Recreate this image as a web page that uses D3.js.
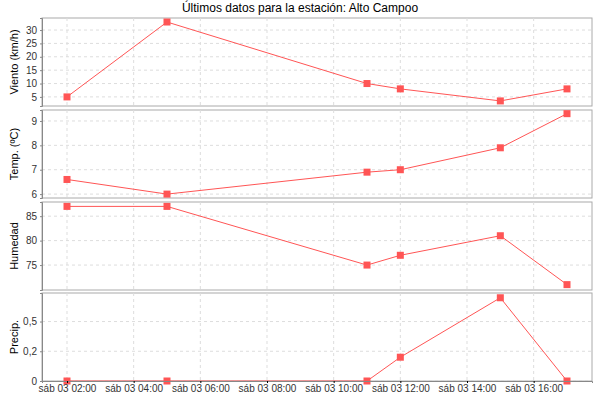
<!DOCTYPE html>
<html><head><meta charset="utf-8">
<script src="https://cdn.jsdelivr.net/npm/d3@7"></script>
<style>body{margin:0;background:#fff}text{font-family:"Liberation Sans",Arial,sans-serif}</style>
</head><body><svg id="c" width="600" height="400"></svg>
<script>
const times = ["02:00","05:00","11:00","12:00","15:00","17:00"];
const viento = [5, 33, 10, 8, 3.5, 8];
const temp = [6.6, 6.0, 6.9, 7.0, 7.9, 9.3];
const humedad = [87, 87, 75, 77, 81, 71];
const precip = [0, 0, 0, 0.2, 0.7, 0];
const xTicks = ["02:00","04:00","06:00","08:00","10:00","12:00","14:00","16:00"];
const panels = [
  {label:"Viento (km/h)", data:viento, dom:[1.6,34.5], ticks:[5,10,15,20,25,30], fmt:d=>d, y0:18, y1:106},
  {label:"Temp. (ºC)", data:temp, dom:[5.84,9.45], ticks:[6,7,8,9], fmt:d=>d, y0:110, y1:198},
  {label:"Humedad", data:humedad, dom:[69.9,87.9], ticks:[75,80,85], fmt:d=>d, y0:202, y1:290},
  {label:"Precip.", data:precip, dom:[0,0.74], ticks:[0,0.25,0.5], fmt:d=>d===0?"0":("0,"+String(Math.floor(d*10))), y0:293, y1:381}
];
const toH = s=>{const [h,m]=s.split(":").map(Number);return h+m/60;};
const svg = d3.select("#c");
const L=42,R=592;
const x = d3.scaleLinear().domain([1.25,17.75]).range([L,R]);
svg.append("text").attr("x",300).attr("y",12).attr("text-anchor","middle").attr("font-size",12).text("Últimos datos para la estación: Alto Campoo");
const color="#ff5555";
panels.forEach((p,i)=>{
  const y=d3.scaleLinear().domain(p.dom).range([p.y1,p.y0]);
  const g=svg.append("g");
  g.append("rect").attr("x",L).attr("y",p.y0).attr("width",R-L).attr("height",p.y1-p.y0).attr("fill","#fff").attr("stroke","#aaa");
  g.selectAll(".vg").data(xTicks).join("line").attr("x1",d=>x(toH(d))).attr("x2",d=>x(toH(d))).attr("y1",p.y0).attr("y2",p.y1).attr("stroke","#ddd").attr("stroke-dasharray","3,3");
  g.selectAll(".hg").data(p.ticks).join("line").attr("x1",L).attr("x2",R).attr("y1",d=>y(d)).attr("y2",d=>y(d)).attr("stroke","#ddd").attr("stroke-dasharray","3,3");
  const ax=g.append("g").attr("transform",`translate(${L},0)`).call(d3.axisLeft(y).tickValues(p.ticks).tickFormat(p.fmt).tickSize(2).tickPadding(3));
  ax.select(".domain").attr("stroke","#888");
  ax.selectAll("text").attr("font-size",10).attr("fill","#333");
  ax.selectAll(".tick line").attr("stroke","#888");
  g.append("text").attr("transform",`translate(18,${(p.y0+p.y1)/2}) rotate(-90)`).attr("text-anchor","middle").attr("font-size",11).text(p.label);
  const pts=p.data.map((v,j)=>[x(toH(times[j])),y(v)]);
  g.append("path").attr("d",d3.line()(pts)).attr("fill","none").attr("stroke",color).attr("stroke-width",1);
  g.selectAll(".m").data(pts).join("rect").attr("x",d=>d[0]-3.5).attr("y",d=>d[1]-3.5).attr("width",7).attr("height",7).attr("fill",color);
  if(i===3){
    const xa=svg.append("g").attr("transform",`translate(0,${p.y1})`).call(d3.axisBottom(x).tickValues(xTicks.map(toH)).tickFormat((d,k)=>"sáb 03 "+xTicks[k]).tickSize(2).tickPadding(2));
    xa.select(".domain").attr("stroke","#888");
    xa.selectAll("text").attr("font-size",10).attr("fill","#333");
  }
});
</script></body></html>
